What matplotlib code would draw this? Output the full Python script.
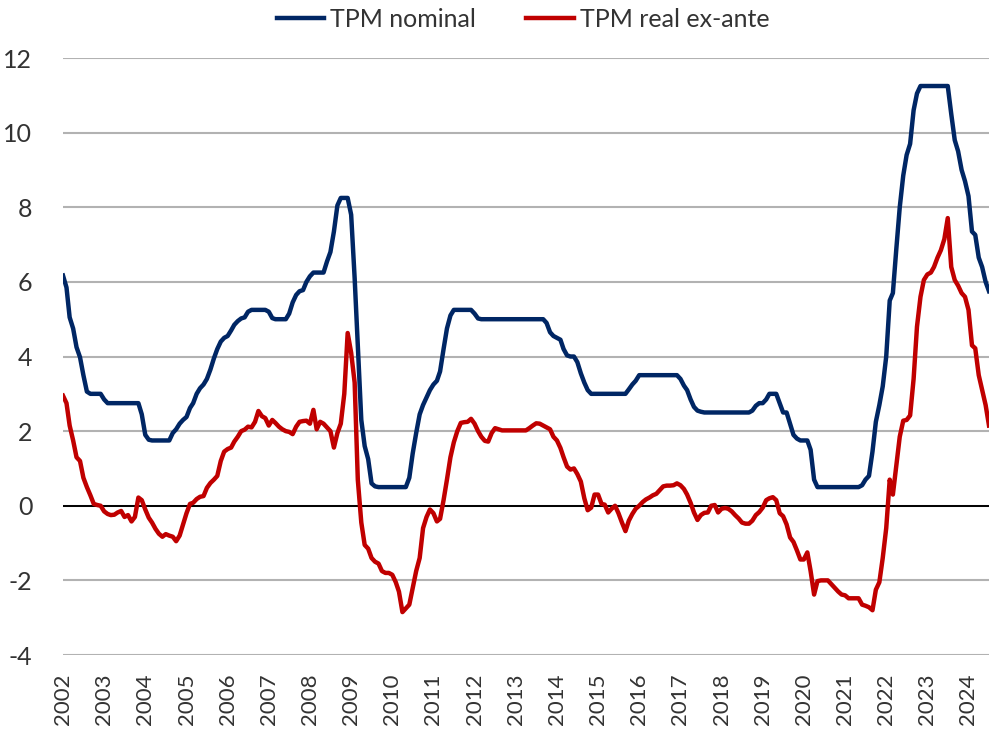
import numpy as np
import pandas as pd
import matplotlib
matplotlib.use("Agg")
import matplotlib.pyplot as plt

# TPM mensual (%), ene-2002 a jul-2024
tpm_nominal = [
    6.17, 5.85, 5.05, 4.75, 4.25, 3.98, 3.5, 3.06, 3.0, 3.0, 3.0, 3.0,          # 2002
    2.85, 2.75, 2.75, 2.75, 2.75, 2.75, 2.75, 2.75, 2.75, 2.75, 2.75, 2.45,     # 2003
    1.9, 1.77, 1.75, 1.75, 1.75, 1.75, 1.75, 1.75, 1.95, 2.05, 2.2, 2.3,        # 2004
    2.38, 2.62, 2.75, 3.0, 3.15, 3.25, 3.4, 3.65, 3.95, 4.2, 4.4, 4.5,          # 2005
    4.55, 4.7, 4.85, 4.95, 5.02, 5.05, 5.2, 5.25, 5.25, 5.25, 5.25, 5.25,       # 2006
    5.2, 5.03, 5.0, 5.0, 5.0, 5.0, 5.15, 5.45, 5.65, 5.75, 5.78, 6.0,           # 2007
    6.15, 6.25, 6.25, 6.25, 6.25, 6.55, 6.8, 7.35, 8.05, 8.25, 8.25, 8.25,      # 2008
    7.8, 6.1, 4.3, 2.3, 1.6, 1.25, 0.6, 0.52, 0.5, 0.5, 0.5, 0.5,               # 2009
    0.5, 0.5, 0.5, 0.5, 0.5, 0.75, 1.4, 1.95, 2.45, 2.7, 2.9, 3.1,              # 2010
    3.25, 3.35, 3.6, 4.2, 4.75, 5.1, 5.25, 5.25, 5.25, 5.25, 5.25, 5.25,        # 2011
    5.15, 5.02, 5.0, 5.0, 5.0, 5.0, 5.0, 5.0, 5.0, 5.0, 5.0, 5.0,               # 2012
    5.0, 5.0, 5.0, 5.0, 5.0, 5.0, 5.0, 5.0, 5.0, 4.9, 4.65, 4.55,               # 2013
    4.5, 4.45, 4.2, 4.03, 4.0, 4.0, 3.85, 3.55, 3.3, 3.1, 3.0, 3.0,             # 2014
    3.0, 3.0, 3.0, 3.0, 3.0, 3.0, 3.0, 3.0, 3.0, 3.12, 3.25, 3.35,              # 2015
    3.5, 3.5, 3.5, 3.5, 3.5, 3.5, 3.5, 3.5, 3.5, 3.5, 3.5, 3.5,                 # 2016
    3.4, 3.22, 3.1, 2.85, 2.65, 2.55, 2.52, 2.5, 2.5, 2.5, 2.5, 2.5,            # 2017
    2.5, 2.5, 2.5, 2.5, 2.5, 2.5, 2.5, 2.5, 2.5, 2.55, 2.68, 2.75,              # 2018
    2.75, 2.85, 3.0, 3.0, 3.0, 2.75, 2.5, 2.5, 2.2, 1.9, 1.8, 1.75,             # 2019
    1.75, 1.75, 1.5, 0.7, 0.5, 0.5, 0.5, 0.5, 0.5, 0.5, 0.5, 0.5,               # 2020
    0.5, 0.5, 0.5, 0.5, 0.5, 0.55, 0.7, 0.8, 1.45, 2.25, 2.7, 3.2,              # 2021
    4.0, 5.5, 5.7, 6.9, 8.0, 8.85, 9.4, 9.7, 10.6, 11.05, 11.25, 11.25,         # 2022
    11.25, 11.25, 11.25, 11.25, 11.25, 11.25, 11.25, 10.5, 9.8, 9.5, 9.0, 8.7,  # 2023
    8.3, 7.35, 7.26, 6.65, 6.4, 6.0, 5.75,                                      # 2024
]

tpm_real = [
    2.95, 2.75, 2.15, 1.75, 1.3, 1.2, 0.75, 0.5, 0.28, 0.05, 0.02, 0.0,         # 2002
    -0.15, -0.22, -0.25, -0.24, -0.18, -0.14, -0.3, -0.25, -0.42, -0.3, 0.22, 0.15,  # 2003
    -0.1, -0.32, -0.45, -0.62, -0.75, -0.83, -0.76, -0.8, -0.83, -0.95, -0.8, -0.5,  # 2004
    -0.2, 0.05, 0.08, 0.18, 0.24, 0.26, 0.48, 0.61, 0.7, 0.8, 1.2, 1.45,        # 2005
    1.52, 1.56, 1.72, 1.85, 2.0, 2.04, 2.12, 2.1, 2.25, 2.54, 2.4, 2.35,        # 2006
    2.15, 2.3, 2.22, 2.12, 2.05, 2.0, 1.98, 1.92, 2.12, 2.25, 2.27, 2.28,       # 2007
    2.2, 2.57, 2.05, 2.25, 2.2, 2.1, 2.0, 1.56, 1.95, 2.2, 3.0, 4.63,           # 2008
    4.1, 3.3, 0.7, -0.45, -1.05, -1.15, -1.4, -1.5, -1.55, -1.75, -1.8, -1.8,   # 2009
    -1.85, -2.05, -2.3, -2.85, -2.75, -2.65, -2.2, -1.75, -1.4, -0.6, -0.3, -0.1,  # 2010
    -0.2, -0.42, -0.35, 0.15, 0.7, 1.3, 1.7, 2.0, 2.22, 2.24, 2.25, 2.33,       # 2011
    2.2, 2.0, 1.85, 1.74, 1.72, 1.95, 2.08, 2.05, 2.02, 2.02, 2.02, 2.02,       # 2012
    2.02, 2.02, 2.02, 2.02, 2.08, 2.15, 2.21, 2.2, 2.15, 2.1, 2.05, 1.85,       # 2013
    1.75, 1.55, 1.3, 1.05, 0.97, 1.0, 0.85, 0.65, 0.2, -0.12, -0.05, 0.3,       # 2014
    0.3, 0.05, 0.03, -0.18, -0.08, 0.0, -0.2, -0.45, -0.68, -0.4, -0.22, -0.08, # 2015
    0.0, 0.1, 0.17, 0.22, 0.28, 0.32, 0.42, 0.52, 0.54, 0.54, 0.55, 0.6,        # 2016
    0.55, 0.45, 0.3, 0.08, -0.18, -0.38, -0.25, -0.19, -0.18, 0.0, 0.02, -0.18, # 2017
    -0.08, -0.06, -0.08, -0.15, -0.25, -0.34, -0.45, -0.48, -0.48, -0.4, -0.25, -0.17,  # 2018
    -0.05, 0.15, 0.2, 0.23, 0.15, -0.2, -0.28, -0.5, -0.85, -0.97, -1.2, -1.44, # 2019
    -1.44, -1.25, -1.75, -2.38, -2.02, -2.0, -2.0, -2.0, -2.1, -2.2, -2.3, -2.38,  # 2020
    -2.4, -2.48, -2.48, -2.48, -2.48, -2.65, -2.68, -2.72, -2.8, -2.25, -2.05, -1.4,  # 2021
    -0.6, 0.7, 0.3, 1.1, 1.85, 2.28, 2.3, 2.42, 3.4, 4.8, 5.6, 6.05,            # 2022
    6.2, 6.25, 6.4, 6.65, 6.85, 7.15, 7.71, 6.4, 6.05, 5.9, 5.7, 5.6,           # 2023
    5.25, 4.3, 4.22, 3.5, 3.1, 2.7, 2.15,                                       # 2024
]

fechas = pd.date_range("2002-01-01", periods=len(tpm_nominal), freq="MS")
anios = list(range(2002, 2025))

plt.rcParams["font.family"] = ["Lato", "DejaVu Sans"]
plt.rcParams["axes.unicode_minus"] = False

fig = plt.figure(figsize=(9.89, 7.29), dpi=100)
ax = fig.add_axes([0.0637, 0.1015, 0.9363, 0.8189])

ax.plot(fechas, tpm_nominal, color="#002664", lw=3.2, solid_joinstyle="round",
        label="TPM nominal")
ax.plot(fechas, tpm_real, color="#c00000", lw=3.2, solid_joinstyle="round",
        label="TPM real ex-ante")

ax.set_ylim(-4, 12)
ax.set_yticks(np.arange(-4, 13, 2))
ax.set_xlim(fechas[0], fechas[-1])
ax.set_xticks([pd.Timestamp(f"{a}-01-01") for a in anios])
ax.set_xticklabels([str(a) for a in anios], rotation=90)

ax.yaxis.grid(True, color="#b2b2b2", lw=1.5)
ax.set_axisbelow(True)
ax.axhline(0, color="black", lw=1.4, zorder=1.5)
for s in ax.spines.values():
    s.set_visible(False)
ax.tick_params(axis="both", length=0, labelcolor="#333333")
ax.tick_params(axis="y", pad=22, labelsize=18)
ax.tick_params(axis="x", pad=13, labelsize=16)

fig.legend(loc="upper center", bbox_to_anchor=(0.529, 1.02), ncol=2,
           frameon=False, fontsize=18, handlelength=1.9, handletextpad=0.25,
           columnspacing=2.0, labelcolor="#333333")

fig.savefig("out.png", dpi=100)
